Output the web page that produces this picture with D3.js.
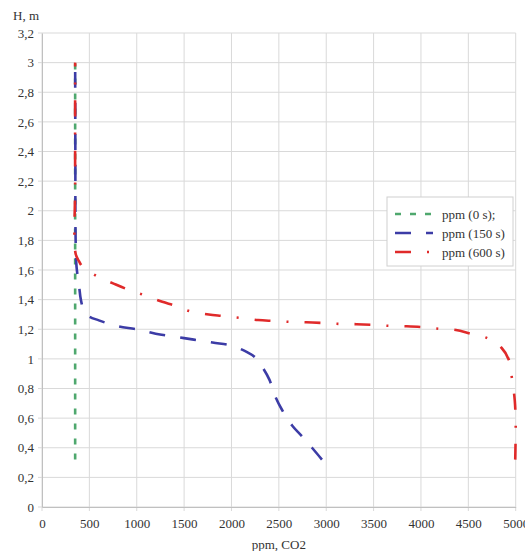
<!DOCTYPE html>
<html>
<head>
<meta charset="utf-8">
<script src="https://cdn.jsdelivr.net/npm/d3@7/dist/d3.min.js"></script>
<style>
  html, body { margin: 0; padding: 0; background: #fff; }
  svg text { font-family: "Liberation Serif", "DejaVu Serif", "Times New Roman", serif !important; fill: #333; }
</style>
</head>
<body>
<svg id="chart" width="525" height="551"></svg>
<script>
// CO2 concentration (ppm) against height H (m) at three moments in time
const xTicks = [0, 500, 1000, 1500, 2000, 2500, 3000, 3500, 4000, 4500, 5000];
const yTicks = [0, 0.2, 0.4, 0.6, 0.8, 1, 1.2, 1.4, 1.6, 1.8, 2, 2.2, 2.4, 2.6, 2.8, 3, 3.2];

const seriesNames = ["ppm (0 s);", "ppm (150 s)", "ppm (600 s)"];

// t = 0 s
const ppm0 = [350, 350];
const h0 = [0.32, 3.0];

// t = 150 s
const ppm150 = [350, 352, 355, 365, 390, 410, 440, 490, 600, 800, 1000, 1200, 1500, 1800, 2000, 2150, 2250, 2330, 2400, 2460, 2530, 2640, 2740, 2850, 2955];
const h150 = [3.0, 2.4, 1.8, 1.62, 1.5, 1.4, 1.33, 1.29, 1.26, 1.22, 1.2, 1.17, 1.14, 1.11, 1.09, 1.05, 1.01, 0.94, 0.86, 0.75, 0.66, 0.55, 0.48, 0.4, 0.32];

// t = 600 s
const ppm600 = [350, 350, 355, 390, 430, 590, 750, 900, 1080, 1270, 1400, 1570, 1760, 1900, 2090, 2280, 2440, 2620, 2790, 2940, 3140, 3320, 3480, 3670, 3850, 4000, 4190, 4370, 4520, 4700, 4850, 4930, 4960, 4990, 5000, 4998, 4995];
const h600 = [3.0, 2.2, 1.71, 1.66, 1.62, 1.555, 1.51, 1.47, 1.43, 1.385, 1.36, 1.32, 1.3, 1.29, 1.277, 1.262, 1.256, 1.25, 1.247, 1.243, 1.236, 1.234, 1.23, 1.223, 1.22, 1.215, 1.203, 1.195, 1.17, 1.14, 1.075, 0.99, 0.87, 0.72, 0.56, 0.42, 0.32];

const colors = ["#4fa86e", "#3c3ca6", "#e02a2a"];
const dashes = [[6, 9], [16, 15], [16, 16, 2, 16]];

const svg = d3.select("#chart");
const margin = { left: 42, right: 9.3, top: 33, bottom: 44 };
const W = 525, H = 551;
const serif = "Liberation Serif, DejaVu Serif, serif";

const x = d3.scaleLinear().domain([0, 5000]).range([margin.left, W - margin.right]);
const y = d3.scaleLinear().domain([0, 3.2]).range([H - margin.bottom, margin.top]);

// grid
const grid = svg.append("g");
grid.selectAll("line.gx").data(xTicks).join("line")
  .attr("x1", d => x(d)).attr("x2", d => x(d))
  .attr("y1", y(3.2)).attr("y2", y(0) + 4)
  .attr("stroke", "#d9d9d9").attr("stroke-width", 1);
grid.selectAll("line.gy").data(yTicks).join("line")
  .attr("x1", x(0) - 4).attr("x2", x(5000))
  .attr("y1", d => y(d)).attr("y2", d => y(d))
  .attr("stroke", "#d9d9d9").attr("stroke-width", 1);

// axes
const fmt = d => String(d).replace(".", ",");
const xAxis = d3.axisBottom(x).tickValues(xTicks).tickSize(0).tickPadding(12).tickFormat(d => d);
const yAxis = d3.axisLeft(y).tickValues(yTicks).tickSize(0).tickPadding(8).tickFormat(fmt);

const gx = svg.append("g").attr("transform", `translate(0,${y(0)})`).call(xAxis);
const gy = svg.append("g").attr("transform", `translate(${x(0)},0)`).call(yAxis);
[gx, gy].forEach(g => {
  g.attr("font-family", serif).attr("font-size", 13);
  g.select(".domain").attr("stroke", "#c0c0c0").attr("stroke-width", 1);
  g.selectAll("text").attr("font-size", 13).attr("font-family", serif).attr("fill", "#333");
});

svg.append("text").attr("x", 13).attr("y", 20).attr("font-family", serif).attr("font-size", 13).text("H, m");
svg.append("text").attr("x", x(2500)).attr("y", 549).attr("text-anchor", "middle")
  .attr("font-family", serif).attr("font-size", 13).text("ppm, CO2");

// curves
const series = [
  { xs: ppm0, ys: h0 },
  { xs: ppm150, ys: h150 },
  { xs: ppm600, ys: h600 }
];
const line = d3.line().x(d => x(d[0])).y(d => y(d[1])).curve(d3.curveCatmullRom.alpha(0.5));

series.forEach((s, i) => {
  const pts = s.xs.map((v, k) => [v, s.ys[k]]);
  const path = svg.append("path")
    .attr("d", line(pts))
    .attr("fill", "none")
    .attr("stroke", colors[i])
    .attr("stroke-width", 2.6)
    .attr("stroke-dasharray", dashes[i].join(","))
    .attr("stroke-linecap", "butt");
  // the measured curves end on a full dash at their lowest point
  if (i > 0) {
    const period = d3.sum(dashes[i]);
    const len = path.node().getTotalLength();
    const off = (((dashes[i][0] - len) % period) + period) % period;
    path.attr("stroke-dashoffset", off);
  }
});

// legend
const lg = svg.append("g").attr("transform", "translate(387,197)");
lg.append("rect").attr("width", 126).attr("height", 69)
  .attr("fill", "#fff").attr("stroke", "#d0d0d0").attr("stroke-width", 1);
seriesNames.forEach((name, i) => {
  const yy = 17 + i * 19;
  lg.append("line").attr("x1", 8).attr("x2", 46).attr("y1", yy).attr("y2", yy)
    .attr("stroke", colors[i]).attr("stroke-width", 2.6).attr("stroke-dasharray", dashes[i].join(","));
  lg.append("text").attr("x", 55).attr("y", yy + 4.5).attr("font-family", serif).attr("font-size", 13).text(name);
});
</script>
</body>
</html>
